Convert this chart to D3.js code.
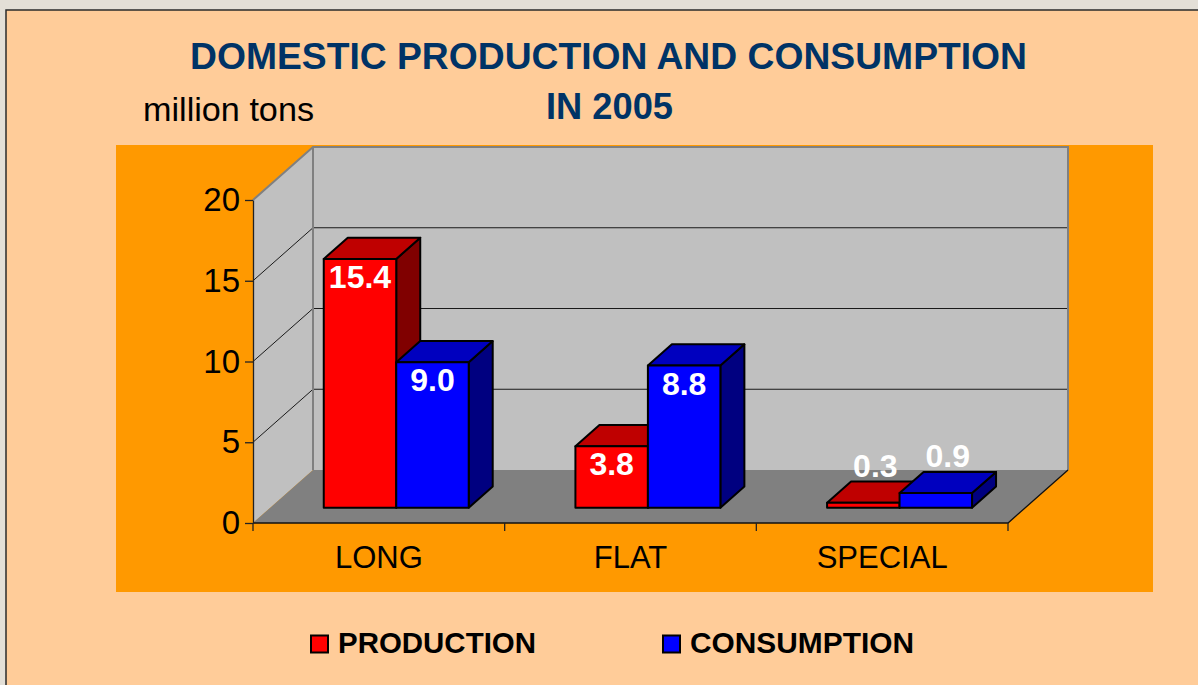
<!DOCTYPE html>
<html>
<head>
<meta charset="utf-8">
<script src="https://cdn.jsdelivr.net/npm/d3@7"></script>
<style>
  body { margin: 0; background: #e3dfd7; }
  svg { display: block; font-family: "Liberation Sans", Arial, sans-serif; }
</style>
</head>
<body>
<svg id="chart" width="1198" height="685"></svg>
<script>
// data
const categories = ["LONG", "FLAT", "SPECIAL"];
const seriesNames = ["PRODUCTION", "CONSUMPTION"];
const production = [15.4, 3.8, 0.3];
const consumption = [9.0, 8.8, 0.9];
const yTicks = [0, 5, 10, 15, 20];

const seriesValues = [production, consumption];
const colors = {
  PRODUCTION: { front: "#ff0000", top: "#bf0000", side: "#800000" },
  CONSUMPTION: { front: "#0000ff", top: "#0000bf", side: "#000080" }
};

const svg = d3.select("#chart");

// page background / frame
svg.append("rect").attr("x", 6).attr("y", 10).attr("width", 1250).attr("height", 700)
  .attr("fill", "#ffcc99").attr("stroke", "#2b2b2b").attr("stroke-width", 1.5);

// orange plot area
svg.append("rect").attr("x", 116).attr("y", 145).attr("width", 1037).attr("height", 447)
  .attr("fill", "#ff9900");

// 3d frame
const depth = { dx: 60, dy: -53 };
const x = d3.scaleBand().domain(categories).range([253, 1008])
  .paddingInner(0.424).paddingOuter(0.212);
const xs = d3.scaleBand().domain(seriesNames).range([0, x.bandwidth()]);
const y = d3.scaleLinear().domain([0, 20]).range([523, 200]);

function P(px, py, d) { return [px + d * depth.dx, py + d * depth.dy]; }
function poly(pts) { return pts.map(p => p.join(",")).join(" "); }

const x0 = x.range()[0], x1 = x.range()[1];
const yb = y(0), yt = y(20);

// left wall
svg.append("polygon")
  .attr("points", poly([P(x0, yb, 0), P(x0, yt, 0), P(x0, yt, 1), P(x0, yb, 1)]))
  .attr("fill", "#c0c0c0");
// back wall
svg.append("polygon")
  .attr("points", poly([P(x0, yb, 1), P(x0, yt, 1), P(x1, yt, 1), P(x1, yb, 1)]))
  .attr("fill", "#c0c0c0");
// floor
svg.append("polygon")
  .attr("points", poly([P(x0, yb, 0), P(x0, yb, 1), P(x1, yb, 1), P(x1, yb, 0)]))
  .attr("fill", "#808080");

// gridlines
const grid = svg.append("g");
yTicks.filter(v => v > 0 && v < 20).forEach(v => {
  const a = P(x0, y(v), 0), b = P(x0, y(v), 1), c = P(x1, y(v), 1);
  grid.append("polyline").attr("points", poly([a, b, c]))
    .attr("fill", "none").attr("stroke", "#1a1a1a").attr("stroke-width", 1);
});

// wall edges (gray)
svg.append("polyline")
  .attr("points", poly([P(x0, yt, 0), P(x0, yt, 1), P(x1, yt, 1), P(x1, yb, 1)]))
  .attr("fill", "none").attr("stroke", "#808080").attr("stroke-width", 2);
svg.append("line")
  .attr("x1", P(x0, yt, 1)[0]).attr("y1", P(x0, yt, 1)[1])
  .attr("x2", P(x0, yb, 1)[0]).attr("y2", P(x0, yb, 1)[1])
  .attr("stroke", "#808080").attr("stroke-width", 2);

// floor front edge + right diagonal
svg.append("polyline")
  .attr("points", poly([P(x0, yb, 0), P(x1, yb, 0), P(x1, yb, 1)]))
  .attr("fill", "none").attr("stroke", "#111").attr("stroke-width", 1.3);

// value axis
const yAxis = svg.append("g").attr("transform", `translate(${x0},0)`)
  .call(d3.axisLeft(y).tickValues(yTicks).tickSize(8).tickSizeOuter(0).tickPadding(5));
yAxis.select(".domain").attr("stroke", "#222").attr("stroke-width", 1.3);
yAxis.selectAll(".tick line").attr("stroke", "#222").attr("stroke-width", 1.3);
yAxis.selectAll(".tick text").attr("font-size", 33).attr("fill", "#000")
  .attr("font-family", "Liberation Sans, Arial, sans-serif");

// category ticks at band edges
const edge = d3.scaleLinear().domain([0, categories.length]).range([x0, x1]);
svg.append("g").selectAll("line").data(d3.range(categories.length + 1)).join("line")
  .attr("x1", d => edge(d)).attr("x2", d => edge(d))
  .attr("y1", yb).attr("y2", yb + 8)
  .attr("stroke", "#222").attr("stroke-width", 1.3);

svg.append("g").selectAll("text").data(categories).join("text")
  .attr("x", d => x(d) + x.bandwidth() / 2)
  .attr("y", 568)
  .attr("text-anchor", "middle")
  .attr("font-size", 31)
  .attr("fill", "#000")
  .text(d => d);

// bars
const d1 = 0.29, d2 = 0.69;
const bars = [];
categories.forEach((c, i) => {
  seriesNames.forEach((s, j) => {
    bars.push({ cat: c, series: s, value: seriesValues[j][i] });
  });
});

const barG = svg.append("g");
bars.forEach(b => {
  const bx0 = x(b.cat) + xs(b.series);
  const bx1 = bx0 + xs.bandwidth();
  const top = y(b.value), bot = y(0);
  const col = colors[b.series];
  const g = barG.append("g").attr("stroke", "#000").attr("stroke-width", 2)
    .attr("stroke-linejoin", "round");
  g.append("polygon")
    .attr("points", poly([P(bx1, top, d1), P(bx1, top, d2), P(bx1, bot, d2), P(bx1, bot, d1)]))
    .attr("fill", col.side);
  g.append("polygon")
    .attr("points", poly([P(bx0, top, d1), P(bx1, top, d1), P(bx1, top, d2), P(bx0, top, d2)]))
    .attr("fill", col.top);
  g.append("polygon")
    .attr("points", poly([P(bx0, top, d1), P(bx1, top, d1), P(bx1, bot, d1), P(bx0, bot, d1)]))
    .attr("fill", col.front);
  b.frontCx = P((bx0 + bx1) / 2, top, d1)[0];
  b.frontTop = P(bx0, top, d1)[1];
  b.backTop = P(bx0, top, d2)[1];
  b.frontH = P(bx0, bot, d1)[1] - b.frontTop;
});

// value labels
svg.append("g").selectAll("text").data(bars).join("text")
  .attr("x", d => d.frontH > 40 ? d.frontCx : d.frontCx + 12)
  .attr("y", d => d.frontH > 40 ? d.frontTop + 29 : d.backTop - 5)
  .attr("text-anchor", "middle")
  .attr("font-size", 32)
  .attr("font-weight", "bold")
  .attr("fill", "#fff")
  .text(d => d.value.toFixed(1));

// titles
svg.append("text").attr("x", 190).attr("y", 69)
  .attr("font-size", 37).attr("font-weight", "bold").attr("fill", "#003366")
  .attr("textLength", 837).attr("lengthAdjust", "spacingAndGlyphs")
  .text("DOMESTIC PRODUCTION AND CONSUMPTION");
svg.append("text").attr("x", 546).attr("y", 119)
  .attr("font-size", 37).attr("font-weight", "bold").attr("fill", "#003366")
  .attr("textLength", 127).attr("lengthAdjust", "spacingAndGlyphs")
  .text("IN 2005");
svg.append("text").attr("x", 143).attr("y", 121)
  .attr("font-size", 34).attr("fill", "#000")
  .attr("textLength", 171).attr("lengthAdjust", "spacingAndGlyphs")
  .text("million tons");

// legend
const legendItems = [
  { name: "PRODUCTION", x: 311, len: 198 },
  { name: "CONSUMPTION", x: 663, len: 224 }
];
const leg = svg.append("g").selectAll("g").data(legendItems).join("g");
leg.append("rect")
  .attr("x", d => d.x).attr("y", 635.5).attr("width", 17).attr("height", 17)
  .attr("fill", d => colors[d.name].front).attr("stroke", "#000").attr("stroke-width", 2);
leg.append("text")
  .attr("x", d => d.x + 27).attr("y", 653)
  .attr("font-size", 30).attr("font-weight", "bold").attr("fill", "#000")
  .attr("textLength", d => d.len).attr("lengthAdjust", "spacingAndGlyphs")
  .text(d => d.name);
</script>
</body>
</html>
